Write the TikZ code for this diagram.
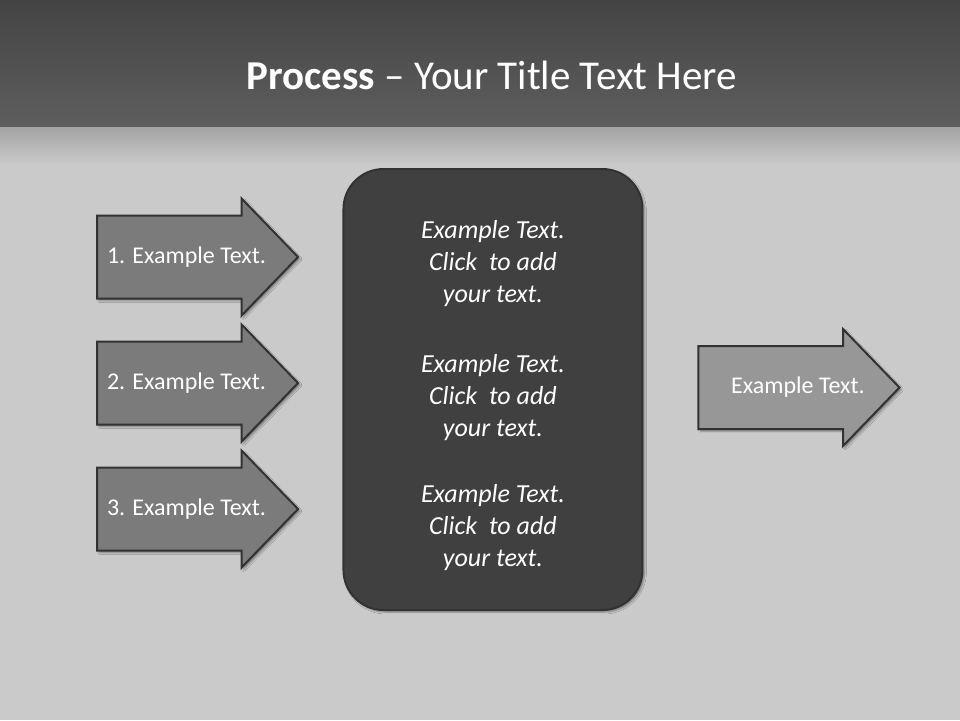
\documentclass[tikz,border=0pt]{standalone}
\usepackage{fontspec}
\setmainfont{Carlito}
\usetikzlibrary{shapes.arrows, positioning, shadows.blur}
\definecolor{bandTop}{RGB}{68, 68, 68}
\definecolor{bandBottom}{RGB}{94, 94, 94}
\definecolor{fadeGray}{RGB}{164, 164, 164}
\definecolor{paperGray}{RGB}{202, 202, 202}
\definecolor{slateGray}{RGB}{123, 123, 123}
\definecolor{paleGray}{RGB}{151, 151, 151}
\definecolor{boxDark}{RGB}{64, 64, 64}
\definecolor{edgeDark}{RGB}{50, 50, 50}

\begin{document}
\begin{tikzpicture}[
    % 1pt = 1px of the slide, y runs downwards
    x=1pt, y=-1pt,
    node distance=41pt and 43pt, % Vertical and Horizontal spacing
    % --- Arrow Styles ---
    stepArrow/.style={
        single arrow,
        single arrow head extend=17pt,
        single arrow tip angle=92,
        minimum height=201pt,     % arrow length
        minimum width=115pt,      % head width
        text height=17pt,
        text depth=5pt,
        inner xsep=0pt,
        inner ysep=29.5pt,        % body = 81pt
        draw=edgeDark,
        line width=2pt,
        text=white,
        font=\fontsize{24}{28}\selectfont,
        blur shadow={shadow xshift=2pt, shadow yshift=-2pt, shadow blur steps=4}
    },
    % moves the label to the right, box width unchanged
    textNudge/.style={
        execute at begin node={\hspace*{#1}},
        execute at end node={\hspace*{-#1}}
    },
    inArrow/.style={stepArrow, fill=slateGray, textNudge=9pt},
    outArrow/.style={stepArrow, fill=paleGray, textNudge=19pt},
    % --- Centre Panel ---
    panel/.style={
        rectangle,
        rounded corners=40pt,
        minimum width=299pt,
        minimum height=441pt,
        fill=boxDark,
        draw=edgeDark,
        line width=2pt,
        text=white,
        align=center,
        font=\fontsize{26}{32}\selectfont\itshape,
        blur shadow={shadow xshift=2pt, shadow yshift=-2pt, shadow blur steps=4}
    },
    titleText/.style={text=white, font=\fontsize{41}{48}\selectfont}
]

    % --- Slide Background ---
    \useasboundingbox (0,0) rectangle (960,720);
    \fill[paperGray] (0,0) rectangle (960,720);
    \shade[top color=bandTop, bottom color=bandBottom] (0,0) rectangle (960,127);
    \shade[top color=fadeGray, bottom color=paperGray] (0,127) rectangle (960,165);

    % --- Title ---
    \node (title) [titleText] at (492,75) {\textbf{Process} -- Your Title Text Here};

    % --- LEFT COLUMN (Inputs) ---
    \node (in1) [inArrow, anchor=tail] at (96,257) {1. Example Text.};
    \node (in2) [inArrow, below=of in1] {2. Example Text.};
    \node (in3) [inArrow, below=of in2] {3. Example Text.};

    % --- CENTRE PANEL ---
    \node (panel) [panel, right=of in2, yshift=-6.5pt] {
        \rule{0pt}{31pt}Example Text.\\ Click\ \ to add\\ your text.\\[38pt]
        Example Text.\\ Click\ \ to add\\ your text.\\[34pt]
        Example Text.\\ Click\ \ to add\\ your text.
    };

    % --- RIGHT COLUMN (Output) ---
    \node (out) [outArrow, right=54pt of panel, yshift=2pt] {Example Text.};

\end{tikzpicture}
\end{document}
